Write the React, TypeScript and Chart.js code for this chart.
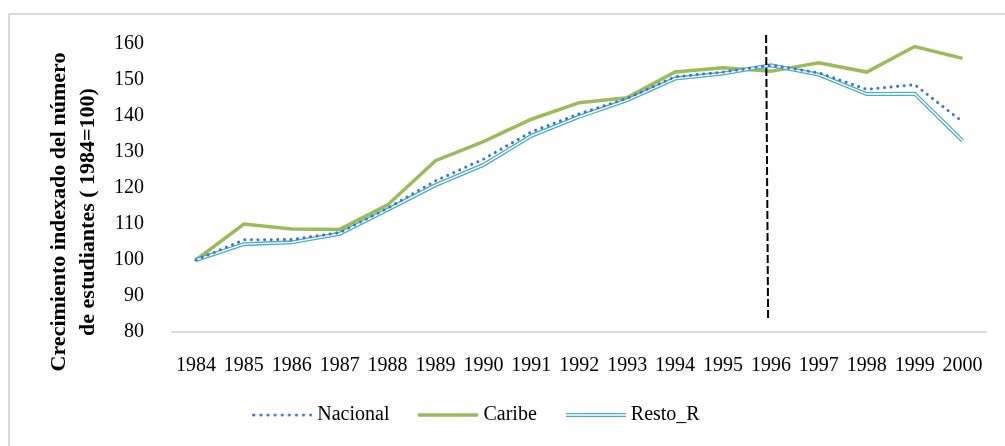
import React, { useEffect, useRef } from 'react';
import { Chart, registerables } from 'chart.js';

Chart.register(...registerables);

const years = ['1984', '1985', '1986', '1987', '1988', '1989', '1990', '1991', '1992', '1993', '1994', '1995', '1996', '1997', '1998', '1999', '2000'];
const nacional = [100, 105.6, 105.7, 107.6, 114.4, 122.0, 128.0, 135.6, 140.6, 144.9, 150.9, 152.2, 154.1, 152.0, 147.4, 148.7, 138.4];
const caribe = [100, 110.0, 108.6, 108.5, 115.3, 127.6, 132.9, 139.1, 143.7, 145.1, 152.2, 153.4, 152.4, 154.8, 152.2, 159.3, 156.0];
const resto = [100, 104.4, 104.9, 107.3, 114.0, 120.8, 126.4, 134.5, 139.8, 144.4, 150.4, 151.8, 154.1, 151.5, 146.1, 146.2, 133.1];
const seriesNames = ['Nacional', 'Caribe', 'Resto_R'];
const yMin = 80;
const yMax = 160;
const yStep = 10;
const yTitleLines = ['Crecimiento indexado del número', 'de estudiantes ( 1984=100)'];
const dividerAt = 11.9; // category position, just before 1996
const dividerFrom = 83.6;
const dividerTo = 162.5;

const FONT = '"Liberation Serif", "Times New Roman", serif';
const BLUE = '#4472c4';
const GREEN = '#9bbb59';
const CYAN = '#4bacc6';

function makeSample(kind: string): HTMLCanvasElement {
  const c = document.createElement('canvas');
  c.width = 60;
  c.height = 10;
  const g = c.getContext('2d')!;
  g.beginPath();
  if (kind === 'dot') {
    g.moveTo(1.5, 5);
    g.lineTo(59, 5);
    g.strokeStyle = BLUE;
    g.lineWidth = 3;
    g.lineCap = 'round';
    g.setLineDash([0.1, 7]);
    g.stroke();
  } else if (kind === 'solid') {
    g.moveTo(0, 5);
    g.lineTo(60, 5);
    g.strokeStyle = GREEN;
    g.lineWidth = 3.5;
    g.stroke();
  } else {
    g.moveTo(0, 5);
    g.lineTo(60, 5);
    g.strokeStyle = CYAN;
    g.lineWidth = 4;
    g.stroke();
    g.strokeStyle = '#ffffff';
    g.lineWidth = 1.5;
    g.stroke();
  }
  return c;
}

export default function App() {
  const ref = useRef<HTMLCanvasElement | null>(null);

  useEffect(() => {
    if (!ref.current) return;
    const samples = [makeSample('dot'), makeSample('solid'), makeSample('double')];

    const innerLine = {
      id: 'innerLine',
      afterDatasetDraw(chart: any, args: any) {
        if (args.index !== 2) return;
        const pts = args.meta.data;
        const ctx = chart.ctx;
        ctx.save();
        ctx.beginPath();
        pts.forEach((p: any, i: number) => (i === 0 ? ctx.moveTo(p.x, p.y) : ctx.lineTo(p.x, p.y)));
        ctx.strokeStyle = '#ffffff';
        ctx.lineWidth = 1.4;
        ctx.stroke();
        ctx.restore();
      },
    };

    const divider = {
      id: 'divider',
      afterDatasetsDraw(chart: any) {
        const x = chart.scales.x.getPixelForValue(dividerAt);
        const y1 = chart.scales.y.getPixelForValue(dividerTo);
        const y2 = chart.scales.y.getPixelForValue(dividerFrom);
        const ctx = chart.ctx;
        ctx.save();
        ctx.beginPath();
        ctx.setLineDash([8, 3]);
        ctx.strokeStyle = '#000';
        ctx.lineWidth = 2;
        ctx.moveTo(x, y1);
        ctx.lineTo(x + 2, y2);
        ctx.stroke();
        ctx.restore();
      },
    };

    const yTitle = {
      id: 'yTitle',
      afterDraw(chart: any) {
        const ctx = chart.ctx;
        const a = chart.chartArea;
        const cy = (a.top + a.bottom) / 2 + 24;
        ctx.save();
        ctx.font = 'bold 22px ' + FONT;
        ctx.fillStyle = '#000';
        ctx.textAlign = 'center';
        ctx.textBaseline = 'middle';
        const xs = [49, 78];
        yTitleLines.forEach((t, i) => {
          ctx.save();
          ctx.translate(xs[i], cy);
          ctx.rotate(-Math.PI / 2);
          ctx.fillText(t, 0, 0);
          ctx.restore();
        });
        ctx.restore();
      },
    };

    const legendShift = {
      id: 'legendShift',
      afterLayout(chart: any) {
        if (chart.legend) chart.legend.left -= 43;
      },
    };

    const chart = new Chart(ref.current, {
      type: 'line',
      data: {
        labels: years,
        datasets: [
          {
            label: seriesNames[0],
            data: nacional,
            borderColor: BLUE,
            borderWidth: 3,
            borderDash: [0.1, 6.5],
            borderCapStyle: 'round',
            pointRadius: 0,
            tension: 0,
            order: 0,
          },
          {
            label: seriesNames[1],
            data: caribe,
            borderColor: GREEN,
            borderWidth: 3.5,
            pointRadius: 0,
            tension: 0,
            order: 2,
          },
          {
            label: seriesNames[2],
            data: resto,
            borderColor: CYAN,
            borderWidth: 4,
            pointRadius: 0,
            tension: 0,
            order: 1,
          },
        ],
      },
      options: {
        responsive: false,
        animation: false,
        layout: { padding: { left: 0, right: 15, top: 29, bottom: 11 } },
        plugins: {
          tooltip: { enabled: false },
          legend: {
            position: 'bottom',
            labels: {
              usePointStyle: true,
              pointStyleWidth: 50,
              boxHeight: 10,
              padding: 34,
              color: '#000',
              font: { family: FONT, size: 20 },
              generateLabels: () =>
                seriesNames.map((n, i) => ({
                  text: n,
                  pointStyle: samples[i],
                  fillStyle: 'transparent',
                  strokeStyle: 'transparent',
                  lineWidth: 0,
                  hidden: false,
                  datasetIndex: i,
                  fontColor: '#000',
                })),
            },
          },
        },
        scales: {
          x: {
            offset: true,
            grid: { display: false, drawTicks: false },
            border: { display: true, color: '#d9d9d9', width: 2 },
            ticks: { color: '#000', font: { family: FONT, size: 20 }, padding: 22, maxRotation: 0, autoSkip: false },
            afterFit(s: any) {
              s.height = 39;
            },
          },
          y: {
            min: yMin,
            max: yMax,
            grid: { display: false, drawTicks: false },
            border: { display: false },
            ticks: { stepSize: yStep, color: '#000', font: { family: FONT, size: 20 }, padding: 28 },
            afterFit(s: any) {
              s.width = 162;
              s.paddingTop = 0;
              s.paddingBottom = 0;
            },
          },
        },
      },
      plugins: [innerLine, divider, yTitle, legendShift],
    } as any);

    return () => chart.destroy();
  }, []);

  return (
    <div
      style={{
        position: 'fixed',
        left: 8,
        top: 13,
        width: 1000,
        height: 440,
        borderTop: '2px solid #d9d9d9',
        borderLeft: '2px solid #d9d9d9',
        background: '#fff',
      }}
    >
      <canvas ref={ref} width={995} height={431} style={{ display: 'block' }} />
    </div>
  );
}
